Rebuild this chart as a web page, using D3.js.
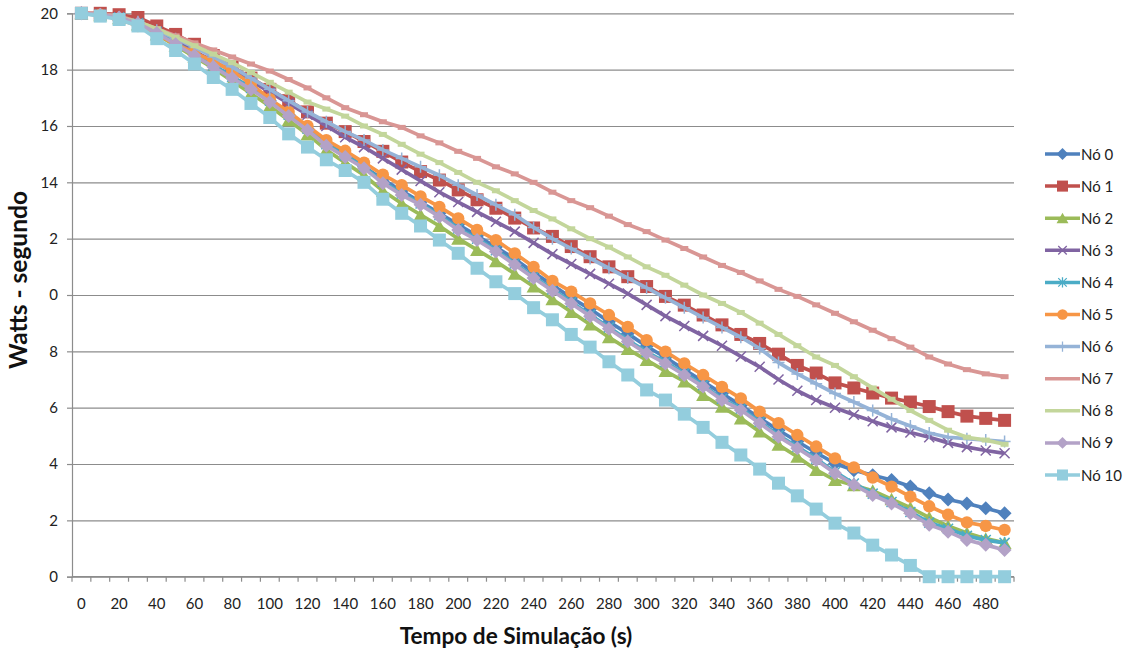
<!DOCTYPE html>
<html><head><meta charset="utf-8">
<script src="https://cdn.jsdelivr.net/npm/d3@7"></script>
<style>
html,body{margin:0;padding:0;background:#fff;}
svg{display:block;font-family:Lato,"Open Sans",sans-serif;}
</style></head>
<body><svg id="c" width="1132" height="654"></svg>
<script>
const times = [0,10,20,30,40,50,60,70,80,90,100,110,120,130,140,150,160,170,180,190,200,210,220,230,240,250,260,270,280,290,300,310,320,330,340,350,360,370,380,390,400,410,420,430,440,450,460,470,480,490];
const xLabels = [0,20,40,60,80,100,120,140,160,180,200,220,240,260,280,300,320,340,360,380,400,420,440,460,480];
const yTicks = [0,2,4,6,8,10,12,14,16,18,20];
const yLabels = ["0","2","4","6","8","0","2","14","16","18","20"];
const seriesNames = ["Nó 0","Nó 1","Nó 2","Nó 3","Nó 4","Nó 5","Nó 6","Nó 7","Nó 8","Nó 9","Nó 10"];

const no0 = [20,19.95,19.82,19.6,19.28,18.92,18.55,18.15,17.75,17.35,16.9,16.4,15.9,15.4,15.0,14.55,14.1,13.7,13.3,12.9,12.5,12.1,11.7,11.28,10.8,10.35,9.9,9.5,9.05,8.63,8.18,7.78,7.35,6.93,6.5,6.08,5.63,5.2,4.8,4.4,4.02,3.78,3.6,3.43,3.2,2.96,2.74,2.6,2.43,2.25];
const no1 = [20,20,19.95,19.85,19.55,19.25,18.9,18.5,18.1,17.7,17.3,16.9,16.5,16.1,15.8,15.45,15.1,14.72,14.38,14.08,13.73,13.38,13.08,12.73,12.38,12.08,11.72,11.36,11.0,10.65,10.3,9.95,9.64,9.29,8.94,8.6,8.28,7.9,7.5,7.23,6.88,6.7,6.52,6.34,6.2,6.04,5.86,5.7,5.62,5.55];
const no2 = [20,19.93,19.82,19.6,19.25,18.85,18.45,18.05,17.6,17.15,16.7,16.2,15.7,15.15,14.7,14.25,13.7,13.25,12.85,12.45,12.0,11.6,11.2,10.75,10.3,9.85,9.4,8.95,8.5,8.08,7.69,7.3,6.93,6.45,6.03,5.62,5.15,4.68,4.26,3.79,3.43,3.25,3.05,2.75,2.45,2.1,1.8,1.55,1.35,1.2];
const no3 = [20,19.95,19.85,19.65,19.35,19.0,18.65,18.3,17.95,17.6,17.2,16.8,16.4,16.0,15.6,15.25,14.85,14.45,14.05,13.65,13.3,12.95,12.6,12.25,11.85,11.45,11.1,10.75,10.4,10.05,9.65,9.25,8.9,8.55,8.2,7.82,7.45,7.0,6.6,6.27,6.0,5.75,5.52,5.3,5.12,4.95,4.75,4.6,4.48,4.38];
const no4 = [20,19.95,19.85,19.65,19.32,18.95,18.55,18.15,17.75,17.35,16.9,16.4,15.9,15.35,14.95,14.55,14.02,13.6,13.25,12.83,12.36,12.0,11.59,11.12,10.65,10.2,9.75,9.3,8.85,8.4,7.98,7.62,7.21,6.8,6.32,5.97,5.5,5.02,4.61,4.19,3.72,3.31,2.95,2.65,2.3,1.92,1.7,1.45,1.3,1.2];
const no5 = [20,19.95,19.8,19.55,19.25,18.9,18.6,18.3,17.95,17.5,16.95,16.5,16.0,15.5,15.12,14.7,14.27,13.9,13.5,13.13,12.72,12.31,11.95,11.48,11.0,10.5,10.12,9.7,9.29,8.87,8.4,7.99,7.57,7.16,6.74,6.33,5.86,5.45,5.03,4.62,4.2,3.88,3.52,3.2,2.84,2.5,2.2,1.93,1.8,1.66];
const no6 = [20,19.95,19.85,19.7,19.4,19.1,18.8,18.45,18.1,17.7,17.3,16.9,16.5,16.15,15.8,15.5,15.15,14.85,14.55,14.25,13.9,13.55,13.2,12.85,12.4,12.0,11.65,11.3,10.95,10.6,10.25,9.9,9.55,9.2,8.85,8.5,8.1,7.6,7.2,6.85,6.5,6.2,5.9,5.6,5.35,5.1,4.95,4.9,4.85,4.8];
const no7 = [20,20,19.9,19.7,19.45,19.2,18.95,18.7,18.45,18.2,17.95,17.65,17.35,17.0,16.65,16.4,16.15,15.95,15.65,15.4,15.1,14.85,14.55,14.3,14.0,13.65,13.35,13.1,12.8,12.5,12.25,11.95,11.65,11.35,11.05,10.8,10.5,10.2,9.95,9.65,9.35,9.05,8.75,8.45,8.15,7.8,7.55,7.35,7.2,7.1];
const no8 = [20,19.95,19.85,19.7,19.45,19.15,18.85,18.55,18.25,17.9,17.55,17.2,16.85,16.6,16.35,16.0,15.7,15.35,15.0,14.7,14.35,14.0,13.7,13.35,13.0,12.7,12.35,12.0,11.7,11.35,11.0,10.7,10.35,10.0,9.7,9.38,9.0,8.6,8.2,7.8,7.5,7.1,6.7,6.3,5.9,5.55,5.2,4.95,4.85,4.7];
const no9 = [20,19.95,19.85,19.65,19.3,18.9,18.5,18.1,17.7,17.3,16.85,16.35,15.85,15.3,14.9,14.5,13.97,13.55,13.2,12.78,12.31,11.95,11.54,11.07,10.6,10.15,9.7,9.25,8.8,8.35,7.93,7.57,7.16,6.75,6.27,5.92,5.45,4.97,4.56,4.14,3.67,3.26,2.9,2.6,2.25,1.84,1.6,1.3,1.13,0.95];
const no10 = [20,19.9,19.78,19.55,19.1,18.68,18.2,17.72,17.3,16.8,16.3,15.72,15.25,14.8,14.42,14.0,13.4,12.9,12.45,11.95,11.48,10.95,10.47,10.05,9.55,9.12,8.6,8.15,7.63,7.16,6.63,6.27,5.77,5.3,4.77,4.32,3.82,3.32,2.87,2.4,1.9,1.55,1.12,0.77,0.4,0,0,0,0,0];

const seriesValues = [no0,no1,no2,no3,no4,no5,no6,no7,no8,no9,no10];
const colors = ["#4F81BD","#C0504D","#9BBB59","#8064A2","#4BACC6","#F79646","#95B3D7","#D99694","#C3D69B","#B3A2C7","#93CDDD"];
const markers = ["diamond","square","triangle","x","star","circle","plus","dash","dash","diamond","square"];

const svg = d3.select("#c");
const L = 72, R = 1014, T = 13.3, B = 576.7;
const x = d3.scaleBand().domain(times).range([L, R]).paddingInner(0).paddingOuter(0);
const y = d3.scaleLinear().domain([0,20]).range([B, T]);
const cx = t => x(t) + x.bandwidth()/2;
const gridColor = "#8c8c8c";

// gridlines
const grid = svg.append("g").attr("transform",`translate(${L},0)`)
  .call(d3.axisLeft(y).tickValues(yTicks).tickSize(-(R-L)).tickFormat(""));
grid.selectAll("line").attr("stroke",gridColor).attr("stroke-width",1.2);
grid.select(".domain").remove();

// y axis
const ya = svg.append("g").attr("transform",`translate(${L},0)`)
  .call(d3.axisLeft(y).tickValues(yTicks).tickSize(5).tickPadding(9).tickFormat((d,i)=>yLabels[i]));
ya.select(".domain").attr("stroke",gridColor).attr("stroke-width",1.2);
ya.selectAll("line").attr("stroke",gridColor).attr("stroke-width",1.2);
ya.selectAll("text").attr("font-size",15).attr("fill","#222").attr("font-family","Lato");

// x axis: boundary ticks
const xa = svg.append("g").attr("transform",`translate(0,${B})`);
xa.append("line").attr("x1",L).attr("x2",R).attr("y1",0).attr("y2",0).attr("stroke",gridColor).attr("stroke-width",1.2);
xa.selectAll("line.tk").data(times.concat(["end"])).enter().append("line").attr("class","tk")
  .attr("x1",d=>d==="end"?R:x(d)).attr("x2",d=>d==="end"?R:x(d))
  .attr("y1",0).attr("y2",5).attr("stroke",gridColor).attr("stroke-width",1.2);
const xl = svg.append("g").attr("transform",`translate(0,${B})`)
  .call(d3.axisBottom(x).tickValues(xLabels).tickSize(0).tickPadding(22));
xl.select(".domain").remove();
xl.selectAll("text").attr("font-size",15).attr("fill","#222").attr("font-family","Lato");

// titles
svg.append("text").attr("x",516).attr("y",644).attr("text-anchor","middle")
  .attr("font-family","Lato").attr("font-weight","bold").attr("font-size",22.6).attr("fill","#111")
  .text("Tempo de Simulação (s)");
svg.append("text").attr("transform","translate(27,280) rotate(-90)").attr("text-anchor","middle")
  .attr("font-family","Lato").attr("font-weight","bold").attr("font-size",24.5).attr("fill","#111")
  .text("Watts - segundo");

function markerPath(type){
  switch(type){
    case "diamond": return "M0,-7L7,0L0,7L-7,0Z";
    case "square": return "M-6.5,-6.5H6.5V6.5H-6.5Z";
    case "triangle": return "M0,-6.5L7,6L-7,6Z";
    case "circle": return d3.symbol(d3.symbolCircle, 120)();
    case "x": return "M-5,-5L5,5M-5,5L5,-5";
    case "star": return "M-5,-5L5,5M-5,5L5,-5M0,-6L0,6";
    case "plus": return "M0,-6L0,6M-6,0L6,0";
    case "dash": return "M-4,-2.5H4V2.5H-4Z";
  }
}
const stroked = t => t==="x"||t==="star"||t==="plus";

const line = d3.line().x(d=>cx(d.t)).y(d=>y(d.v));
seriesValues.forEach((vals,i)=>{
  const pts = times.map((t,j)=>({t:t,v:vals[j]}));
  const g = svg.append("g");
  g.append("path").datum(pts).attr("d",line).attr("fill","none")
    .attr("stroke",colors[i]).attr("stroke-width",3.7).attr("stroke-linejoin","round");
  g.selectAll("path.m").data(pts).enter().append("path").attr("class","m")
    .attr("transform",d=>`translate(${cx(d.t)},${y(d.v)})`)
    .attr("d",markerPath(markers[i]))
    .attr("fill",stroked(markers[i])?"none":colors[i])
    .attr("stroke",stroked(markers[i])?colors[i]:"none")
    .attr("stroke-width",1.5);
});

// legend
const lg = svg.append("g");
seriesNames.forEach((n,i)=>{
  const yy = 154 + i*32.1;
  lg.append("line").attr("x1",1045).attr("x2",1080).attr("y1",yy).attr("y2",yy)
    .attr("stroke",colors[i]).attr("stroke-width",3.5);
  if(markers[i]!=="dash"){
    lg.append("path").attr("transform",`translate(1062.5,${yy}) scale(0.85)`).attr("d",markerPath(markers[i]))
      .attr("fill",stroked(markers[i])?"none":colors[i])
      .attr("stroke",stroked(markers[i])?colors[i]:"none").attr("stroke-width",1.5);
  }
  lg.append("text").attr("x",1081).attr("y",yy+5.5).attr("font-family","Lato").attr("font-size",15)
    .attr("fill","#222").text(n);
});
</script></body></html>
